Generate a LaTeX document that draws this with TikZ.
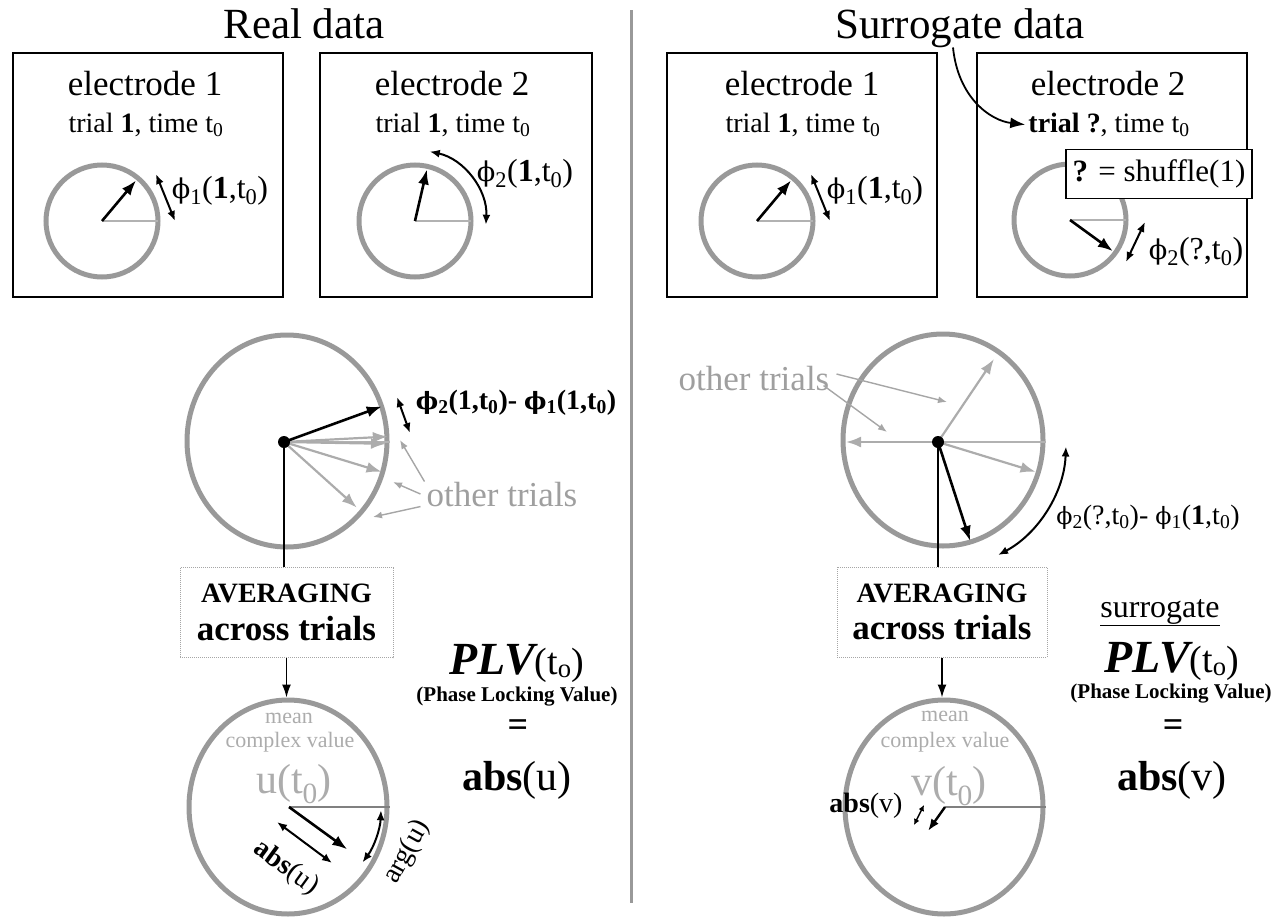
\documentclass[tikz,border=0pt]{standalone}
\usepackage{fontspec}
\setmainfont{Liberation Serif}
\newfontfamily\phfont{DejaVu Serif}[Scale=0.85]
\usetikzlibrary{arrows.meta,calc,shapes.geometric}
\newcommand\fsz[1]{\fontsize{#1}{#1}\selectfont}
\newcommand\phsub[1]{{\phfont ϕ}\textsubscript{#1}}
\newcommand\tnull{t\textsubscript{0}}

\begin{document}
\begin{tikzpicture}[x=1pt,y=-1pt,
  ring/.style={draw=gray!80,line width=5pt},
  bigring/.style={ring,ellipse,inner sep=0pt},
  panel/.style={draw,line width=1.8pt,minimum width=270pt,minimum height=244pt},
  vec/.style={-{Latex[length=15pt,width=11pt]},line width=2.6pt},
  gvec/.style={vec,draw=gray!65,line width=2.2pt},
  dvec/.style={{Latex[length=10pt,width=8pt]}-{Latex[length=10pt,width=8pt]},line width=2pt},
  ref/.style={draw=gray!60,line width=1.3pt},
  ptr/.style={-{Latex[length=9pt,width=7pt]},draw=gray!70,line width=1.4pt},
  down/.style={-{Latex[length=13pt,width=9pt]},line width=1.5pt},
  lbl/.style={anchor=base,inner sep=0pt},
  avg/.style={draw=gray!70,densely dotted,line width=1pt,align=center,font=\bfseries,minimum height=90pt}]
\useasboundingbox (0,0) rectangle (1285,918);

% titles
\node[lbl,font=\fsz{43}] (tReal) at (304,38) {Real data};
\node[lbl,font=\fsz{43}] (tSur) at (960,38) {Surrogate data};
\draw[draw=gray!80,line width=3pt] (631,10) -- (631,903);

% electrode panels
\node[panel] (bL1) at (148,175) {};
\node[panel,minimum width=272pt] (bL2) at (456,175) {};
\node[panel] (bR1) at (802,175) {};
\node[panel] (bR2) at (1112,175) {};
\foreach \b/\x/\n in {L1/145/1,L2/452/2,R1/802/1,R2/1108/2}
  \node[lbl,font=\fsz{35}] (e\b) at (\x,95) {electrode \n};
\node[lbl,font=\fsz{28}] (sL1) at (146,132) {trial \textbf{1}, time \tnull};
\node[lbl,font=\fsz{28}] (sL2) at (453,132) {trial \textbf{1}, time \tnull};
\node[lbl,font=\fsz{28}] (sR1) at (803,132) {trial \textbf{1}, time \tnull};
\node[lbl,font=\fsz{28}] (sR2) at (1109,132) {\textbf{trial ?}, time \tnull};

\coordinate (cL1) at (102,221); \coordinate (cL2) at (415,221);
\coordinate (cR1) at (757,221); \coordinate (cR2) at (1070,220);
\foreach \c in {cL1,cL2,cR1,cR2} {
  \draw[ring] (\c) circle[radius=56]; \draw[ref] (\c) -- ++(56,0);}
\draw[vec] (cL1) -- ++(-50:53);
\draw[vec] (cR1) -- ++(-50:53);
\draw[vec] (cL2) -- ++(-77:53);
\draw[vec] (cR2) -- ++(36:53);
\draw[dvec] (156,174) -- (175,221);
\draw[dvec] (811,174) -- (830,221);
\draw[dvec] ($(cL2)+(-78:71)$) arc[start angle=-78,end angle=3,radius=71];
\draw[dvec] (1145,222) -- (1126,262);
\node[lbl,font=\fsz{32}] (pL1) at (220,198) {\phsub1(\textbf{1},\tnull)};
\node[lbl,font=\fsz{32}] (pL2) at (525,181) {\phsub2(\textbf{1},\tnull)};
\node[lbl,font=\fsz{32}] (pR1) at (875,198) {\phsub1(\textbf{1},\tnull)};
\node[lbl,font=\fsz{32}] (pR2) at (1196,259) {\phsub2(?,\tnull)};
\node[draw,fill=white,line width=1.5pt,minimum width=186pt,minimum height=49pt,
  font=\fsz{31}] (shuf) at (1159,174) {\textbf{?} = shuffle(1)};
\draw[-{Latex[length=15pt,width=11pt]},line width=1.8pt] ([xshift=-7pt]tSur.south)
  .. controls +(5,50) and +(-35,-4) .. ([xshift=-3pt]sR2.west);

% real data: phase differences
\coordinate (mL) at (284,442);
\node[bigring,minimum width=200pt,minimum height=212pt] (ringML) at (287,441) {};
\draw[ref] (mL) -- (mL -| ringML.east);
\foreach \a/\r in {-3/104,1/102,17/102,42/98} \draw[gvec] (mL) -- ++(\a:\r);
\draw[vec] (mL) -- ++(-20:104);
\draw[dvec] (397,397) -- (410,433);
\node[lbl,font=\fsz{28}\bfseries] (dL) at (516,409) {\phsub2(1,\tnull)- \phsub1(1,\tnull)};
\node[lbl,font=\fsz{35},text=gray!75] (oL) at (502,506) {other trials};
\draw[ptr] ([xshift=-2pt]oL.north west) -- (400,440);
\draw[ptr] ([xshift=-6pt]oL.west) -- (393,482);
\draw[ptr] ([xshift=-6pt]oL.south west) -- (373,517);
\node[avg,minimum width=213pt] (avL) at (286.5,612.5)
  {\fsz{28}AVERAGING\\[12pt]\fsz{35}across trials};
\draw[line width=1.5pt] (mL) -- (mL |- avL.north);
\fill (mL) circle[radius=6];

% real data: mean value
\coordinate (bL) at (289,807);
\node[bigring,minimum width=198pt,minimum height=214pt] (ringBL) at (288,807) {};
\draw[down] (avL.south) -- (avL.south |- ringBL.north);
\node[lbl,font=\fsz{22},text=gray!65] (mnL) at (289,723) {mean};
\node[lbl,font=\fsz{22},text=gray!65] (cvL) at (290,747) {complex value};
\node[lbl,font=\fsz{42},text=gray!65] (uL) at (294,793) {u(\tnull)};
\draw[draw=gray,line width=1.3pt] (bL) -- (bL -| ringBL.east);
\draw[vec] (bL) -- ++(36:72);
\draw[dvec] (277,822) -- (332,863);
\node[font=\fsz{28},rotate=-36,inner sep=0pt] (aL) at (286,868) {\textbf{abs}(u)};
\draw[dvec] ($(bL)+(2:92)$) arc[start angle=2,end angle=37,radius=92];
\node[font=\fsz{28},rotate=61,inner sep=0pt] (gL) at (407,852) {arg(u)};

\node[lbl] (plvL) at (517,674) {\fsz{46}\bfseries\itshape PLV\fsz{38}\mdseries\upshape(t\textsubscript{o})};
\node[lbl,font=\fsz{21}\bfseries] (plnL) at (517,701) {(Phase Locking Value)};
\node[font=\fsz{36}\bfseries] (eqL) at (518,728) {=};
\node[lbl,font=\fsz{42}] (absL) at (517,790) {\textbf{abs}(u)};

% surrogate data: phase differences
\coordinate (mR) at (938,442);
\node[bigring,minimum width=200pt,minimum height=212pt] (ringMR) at (943,440) {};
\draw[ref] (mR) -- (mR -| ringMR.east);
\foreach \a/\r in {-56/100,180/92,17/102} \draw[gvec] (mR) -- ++(\a:\r);
\draw[vec] (mR) -- ++(72:104);
\node[lbl,font=\fsz{35},text=gray!75] (oR) at (754,390) {other trials};
\draw[ptr] ([xshift=7pt,yshift=4pt]oR.east) -- (947,402);
\draw[ptr] ([xshift=-6pt,yshift=5pt]oR.south east) -- (887,432);
\draw[dvec] ($(mR)+(2:128)$) arc[start angle=2,end angle=62,radius=128];
\node[lbl,font=\fsz{28}] (dR) at (1148,524) {\phsub2(?,\tnull)- \phsub1(\textbf{1},\tnull)};
\node[avg,minimum width=210pt] (avR) at (942,612)
  {\fsz{28}AVERAGING\\[12pt]\fsz{35}across trials};
\draw[line width=1.5pt] (mR) -- (mR |- avR.north);
\fill (mR) circle[radius=6];

% surrogate data: mean value
\coordinate (bR) at (945,807);
\node[bigring,minimum width=198pt,minimum height=214pt] (ringBR) at (944,807) {};
\draw[down] (avR.south) -- (avR.south |- ringBR.north);
\node[lbl,font=\fsz{22},text=gray!65] (mnR) at (945,721) {mean};
\node[lbl,font=\fsz{22},text=gray!65] (cvR) at (945,747) {complex value};
\node[lbl,font=\fsz{42},text=gray!65] (vR) at (949,795) {v(\tnull)};
\draw[draw=gray,line width=1.3pt] (bR) -- (bR -| ringBR.east);
\draw[-{Latex[length=12pt,width=9pt]},line width=2.4pt] (bR) -- ++(-17,24);
\draw[{Latex[length=6pt,width=6pt]}-{Latex[length=6pt,width=6pt]},line width=1.5pt] (924,805) -- (914,825);
\node[lbl,font=\fsz{28}] (aR) at (866,812) {\textbf{abs}(v)};

\node[lbl,font=\fsz{32}] (surR) at (1160,617) {\underline{surrogate}};
\node[lbl] (plvR) at (1172,672) {\fsz{46}\bfseries\itshape PLV\fsz{38}\mdseries\upshape(t\textsubscript{o})};
\node[lbl,font=\fsz{21}\bfseries] (plnR) at (1171,698) {(Phase Locking Value)};
\node[font=\fsz{36}\bfseries] (eqR) at (1173,728) {=};
\node[lbl,font=\fsz{42}] (absR) at (1172,790) {\textbf{abs}(v)};
\end{tikzpicture}
\end{document}
